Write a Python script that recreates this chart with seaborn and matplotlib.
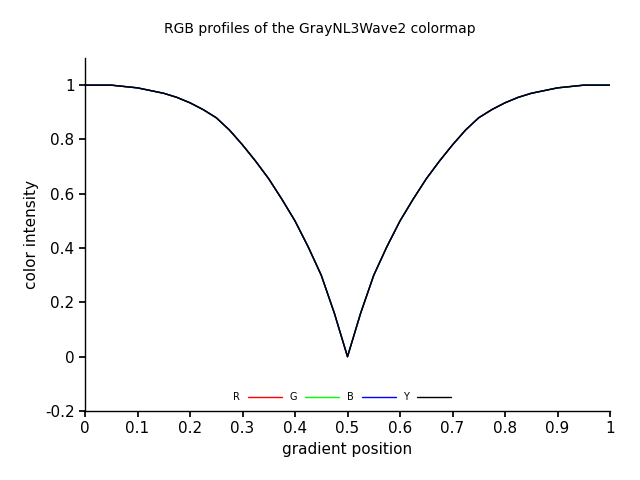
import matplotlib
matplotlib.use("Agg")
import matplotlib.pyplot as plt
import seaborn as sns
import pandas as pd

sns.set_theme(style="white")
plt.rcParams['font.family'] = ['DejaVu Sans']
plt.rcParams['text.color'] = 'black'
plt.rcParams['axes.labelcolor'] = 'black'
plt.rcParams['xtick.color'] = 'black'
plt.rcParams['ytick.color'] = 'black'

positions = [0.0, 0.025, 0.05, 0.075, 0.1, 0.125, 0.15, 0.175, 0.2, 0.225, 0.25,
             0.275, 0.3, 0.325, 0.35, 0.375, 0.4, 0.425, 0.45, 0.475, 0.5,
             0.525, 0.55, 0.575, 0.6, 0.625, 0.65, 0.675, 0.7, 0.725, 0.75,
             0.775, 0.8, 0.825, 0.85, 0.875, 0.9, 0.925, 0.95, 0.975, 1.0]
intensity = [1.0, 1.0, 1.0, 0.995, 0.99, 0.98, 0.97, 0.955, 0.935, 0.91, 0.88,
             0.835, 0.78, 0.72, 0.655, 0.58, 0.5, 0.405, 0.3, 0.16, 0.0,
             0.16, 0.3, 0.405, 0.5, 0.58, 0.655, 0.72, 0.78, 0.835, 0.88,
             0.91, 0.935, 0.955, 0.97, 0.98, 0.99, 0.995, 1.0, 1.0, 1.0]
channels = ["R", "G", "B", "Y"]
colors = ["#ff0000", "#00ff00", "#0000ff", "#000000"]

df = pd.concat([pd.DataFrame({"x": positions, "y": intensity, "ch": c}) for c in channels])

fig = plt.figure(figsize=(6.4, 4.8), dpi=100)
ax = fig.add_axes([85 / 640, 1 - 411 / 480, 525 / 640, 353 / 480])
sns.lineplot(data=df, x="x", y="y", hue="ch", palette=dict(zip(channels, colors)),
             linewidth=1, ax=ax, estimator=None)

ax.set_xlim(0, 1)
ax.set_ylim(-0.2, 1.1)
ax.set_xticks([i / 10 for i in range(11)])
ax.set_xticklabels(["0", "0.1", "0.2", "0.3", "0.4", "0.5", "0.6", "0.7", "0.8", "0.9", "1"])
ax.set_yticks([-0.2, 0, 0.2, 0.4, 0.6, 0.8, 1])
ax.set_yticklabels(["-0.2", "0", "0.2", "0.4", "0.6", "0.8", "1"])
ax.tick_params(labelsize=11, length=4, direction="out", left=True, bottom=True)
for s in ["top", "right"]:
    ax.spines[s].set_visible(False)
for s in ["left", "bottom"]:
    ax.spines[s].set_color("black")
    ax.spines[s].set_linewidth(1)
ax.set_xlabel("gradient position", fontsize=11)
ax.set_ylabel("color intensity", fontsize=11)
fig.suptitle("RGB profiles of the GrayNL3Wave2 colormap", fontsize=10, y=0.955)

leg = ax.legend(loc="lower center", bbox_to_anchor=(0.49, 0.0), ncol=4, frameon=False,
                fontsize=7, markerfirst=False, handlelength=3.5, columnspacing=0.8,
                handletextpad=0.8)
fig.savefig("out.png", dpi=100)
